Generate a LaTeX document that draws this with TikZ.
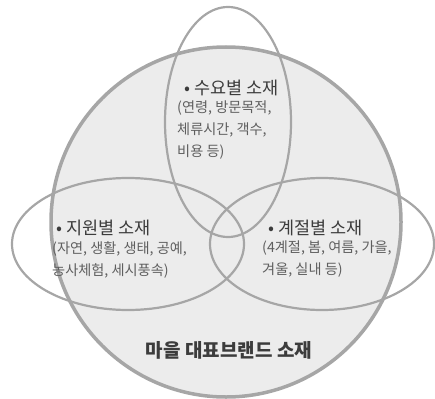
\documentclass[tikz,border=0pt]{standalone}
\usepackage{fontspec}
\setmainfont{Noto Sans CJK KR}
\usepackage{tikz}
\usetikzlibrary{shapes.geometric}
\definecolor{ring}{RGB}{166, 166, 166}
\definecolor{light_gray}{RGB}{236, 236, 236}
\definecolor{ink}{RGB}{60, 60, 60}
\definecolor{soft_ink}{RGB}{95, 95, 95}

\begin{document}
\begin{tikzpicture}[x=1pt, y=-1pt,
    head/.style={anchor=west, inner sep=0pt, text=ink, font=\fontsize{17.5}{17.5}\selectfont},
    detail/.style={anchor=north west, inner sep=0pt, align=left, text=soft_ink, font=\fontsize{14.2}{22}\selectfont},
    oval/.style={shape=ellipse, draw=ring, line width=2.2pt, inner sep=0pt}]
        \useasboundingbox (0,0) rectangle (435,398);
        \node[shape=circle, draw=ring, fill=light_gray, line width=3.5pt, minimum size=350pt, inner sep=0pt] (brand) at (226,222) {};

        \node[oval, minimum width=126pt, minimum height=230pt] (demand) at (228,122) {};
        \node[oval, minimum width=232pt, minimum height=132pt] (resource) at (128,244) {};
        \node[oval, minimum width=224pt, minimum height=132pt] (season) at (322,244) {};

        \node[head] (demand_head) at (184,88) {• 수요별 소재};
        \node[detail] (demand_text) at (177,101) {(연령, 방문목적,\\체류시간, 객수,\\비용 등)};

        \node[head] (resource_head) at (56,228) {• 지원별 소재};
        \node[detail] (resource_text) at (52,241) {(자연, 생활, 생태, 공예,\\농사체험, 세시풍속)};

        \node[head] (season_head) at (268,228) {• 계절별 소재};
        \node[detail] (season_text) at (262,241) {(4계절, 봄, 여름, 가을,\\겨울, 실내 등)};

        \node[inner sep=0pt, text=ink, font=\fontsize{19}{19}\bfseries\selectfont] (brand_label) at (229,350) {마을 대표브랜드 소재};
    \end{tikzpicture}
\end{document}
